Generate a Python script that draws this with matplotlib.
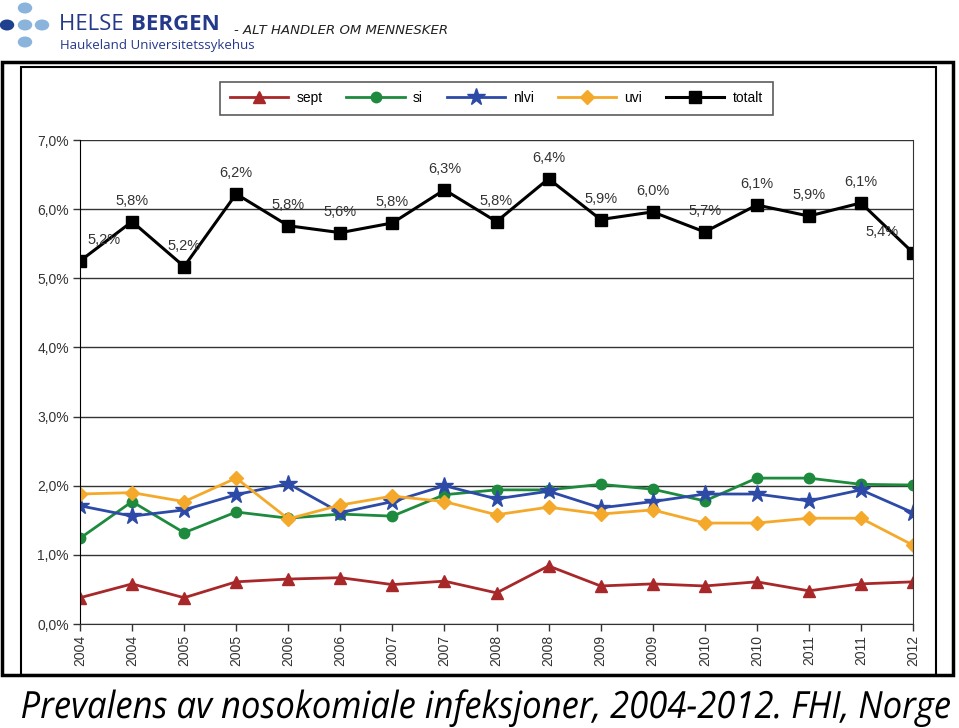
import matplotlib.pyplot as plt
from matplotlib.patches import Rectangle, Circle, PathPatch
from matplotlib.textpath import TextPath
from matplotlib.font_manager import FontProperties
from matplotlib.transforms import Affine2D

years = ['2004', '2004', '2005', '2005', '2006', '2006', '2007', '2007', '2008',
         '2008', '2009', '2009', '2010', '2010', '2011', '2011', '2012']

sept = [0.38, 0.58, 0.38, 0.61, 0.65, 0.67, 0.57, 0.62, 0.45,
        0.84, 0.55, 0.58, 0.55, 0.61, 0.48, 0.58, 0.61]
si = [1.24, 1.77, 1.32, 1.62, 1.53, 1.59, 1.56, 1.87, 1.94,
      1.94, 2.02, 1.95, 1.78, 2.11, 2.11, 2.02, 2.01]
nlvi = [1.71, 1.56, 1.65, 1.87, 2.03, 1.61, 1.77, 2.00, 1.81,
        1.92, 1.68, 1.77, 1.88, 1.88, 1.78, 1.94, 1.61]
uvi = [1.88, 1.90, 1.77, 2.11, 1.52, 1.72, 1.85, 1.77, 1.58,
       1.69, 1.59, 1.65, 1.46, 1.46, 1.53, 1.53, 1.14]
totalt = [5.25, 5.82, 5.17, 6.22, 5.76, 5.66, 5.80, 6.28, 5.82,
          6.44, 5.85, 5.96, 5.67, 6.06, 5.90, 6.09, 5.37]
totalt_labels = ['5,2%', '5,8%', '5,2%', '6,2%', '5,8%', '5,6%', '5,8%', '6,3%', '5,8%',
                 '6,4%', '5,9%', '6,0%', '5,7%', '6,1%', '5,9%', '6,1%', '5,4%']

caption = 'Prevalens av nosokomiale infeksjoner, 2004-2012. FHI, Norge'

W, H = 959, 728
fig = plt.figure(figsize=(W / 100, H / 100), dpi=100)

def fx(px):
    return px / W

def fy(py):
    return 1 - py / H

# header logo
navy = '#25398a'
for (cx, cy, col) in [(25, 8, '#8ab4dc'), (7, 25, '#1f3f8f'), (25, 25, '#8ab4dc'),
                      (42, 25, '#8ab4dc'), (25, 42, '#8ab4dc')]:
    fig.patches.append(Circle((fx(cx), fy(cy)), 5.5 / H, transform=fig.transFigure,
                              facecolor=col, edgecolor='none'))
fig.text(fx(59), fy(25), 'HELSE ', fontsize=16, color=navy, va='center', ha='left',
         family='Open Sans')
fig.text(fx(131), fy(25), 'BERGEN', fontsize=16, color=navy, va='center', ha='left',
         family='Open Sans', weight='bold')
fig.text(fx(60), fy(46), 'Haukeland Universitetssykehus', fontsize=9.5, color=navy,
         va='center', ha='left', family='Open Sans')
fig.text(fx(234), fy(30), '- ALT HANDLER OM MENNESKER', fontsize=9.5, color='#222222',
         va='center', ha='left', family='DejaVu Sans', style='italic')

# frame around the chart
fig.patches.append(Rectangle((fx(2), fy(675)), fx(951), (675 - 62) / H,
                             transform=fig.transFigure, fill=False, lw=2.5, edgecolor='black'))
fig.patches.append(Rectangle((fx(21), fy(675)), fx(915), (675 - 67) / H,
                             transform=fig.transFigure, fill=False, lw=1.5, edgecolor='black'))

ax = fig.add_axes([fx(80), fy(624), fx(913 - 80), (624 - 140) / H])
x = list(range(len(years)))

ax.plot(x, sept, color='#a8282a', marker='^', markersize=9, lw=2, label='sept')
ax.plot(x, si, color='#1e8a3e', marker='o', markersize=7.5, lw=2, label='si')
ax.plot(x, nlvi, color='#2d4aa6', marker='*', markersize=13, lw=2, label='nlvi')
ax.plot(x, uvi, color='#f4a92a', marker='D', markersize=7, lw=2, label='uvi')
ax.plot(x, totalt, color='black', marker='s', markersize=8, lw=2.2, label='totalt')

for i, (v, lab) in enumerate(zip(totalt, totalt_labels)):
    dx = 0
    if i == 0:
        dx = 17
    elif i == len(x) - 1:
        dx = -22
    ax.annotate(lab, (i, v), xytext=(dx, 10), textcoords='offset points', ha='center',
                va='bottom', fontsize=10.5, color='#333333', family='Liberation Sans')

ax.set_xlim(0, 16)
ax.set_ylim(0, 7)
ax.set_yticks(range(0, 8))
ax.set_yticklabels([f'{v},0%' for v in range(0, 8)], fontsize=10, color='#333333',
                   family='Liberation Sans')
ax.set_xticks(x)
ax.set_xticklabels(years, rotation=90, fontsize=10, color='#333333', family='Liberation Sans')
ax.tick_params(axis='both', direction='out', length=5, width=1, color='#333333', pad=3)
ax.grid(axis='y', color='#333333', lw=1)
ax.set_axisbelow(True)
ax.spines['top'].set_visible(False)
ax.spines['right'].set_color('#333333')
ax.spines['left'].set_color('black')
ax.spines['bottom'].set_color('#333333')

leg = ax.legend(loc='upper center', bbox_to_anchor=(0.5, 1.135), ncol=5, frameon=True,
                fancybox=False, edgecolor='#333333', handlelength=4.2, handletextpad=0.6,
                columnspacing=1.7, borderpad=0.7,
                prop={'family': 'Liberation Sans', 'size': 10})
leg.get_frame().set_linewidth(1.2)

# caption: condensed italic, squeezed to the width it has in the reference
tp = TextPath((0, 0), caption, size=100,
              prop=FontProperties(family='Open Sans', style='italic'))
ext = tp.get_extents()
sx = (950 - 22) / ext.width
sy = 27 / 72  # cap height about 27 px
trans = Affine2D().translate(-ext.x0, 0).scale(sx, sy).translate(22, H - 718)
fig.patches.append(PathPatch(tp, transform=trans, facecolor='black', edgecolor='none'))

fig.savefig('out.png', dpi=100)
